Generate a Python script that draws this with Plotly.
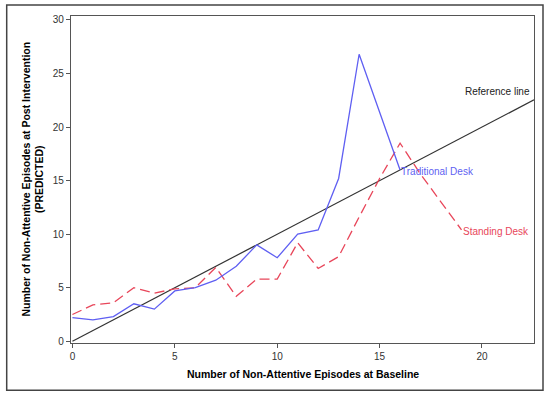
import plotly.graph_objects as go

# Data
trad_x = [0, 1, 2, 3, 4, 5, 6, 7, 8, 9, 10, 11, 12, 13, 14, 15, 16]
trad_y = [2.2, 2.0, 2.3, 3.5, 3.0, 4.7, 5.0, 5.7, 7.0, 9.0, 7.8, 10.0, 10.4, 15.2, 26.8, 21.4, 16.0]
stand_x = [0, 1, 2, 3, 4, 5, 6, 7, 8, 9, 10, 11, 12, 13, 14, 15, 16, 17, 18, 19]
stand_y = [2.5, 3.4, 3.6, 5.0, 4.5, 4.9, 5.0, 6.9, 4.2, 5.8, 5.8, 9.2, 6.8, 7.9, 11.6, 15.2, 18.5, 15.6, 13.0, 10.4]
ref_x = [0, 22.54]
ref_y = [0, 22.54]
x_ticks = [0, 5, 10, 15, 20]
y_ticks = [0, 5, 10, 15, 20, 25, 30]

BLUE = "#5f5ff2"
RED = "#e8465a"
FONT = "Liberation Sans, Arial, sans-serif"

fig = go.Figure()
fig.add_trace(go.Scatter(x=ref_x, y=ref_y, mode="lines",
                         line=dict(color="#333333", width=1.2), hoverinfo="skip"))
fig.add_trace(go.Scatter(x=stand_x, y=stand_y, mode="lines",
                         line=dict(color=RED, width=1.3, dash="10px,5px")))
fig.add_trace(go.Scatter(x=trad_x, y=trad_y, mode="lines",
                         line=dict(color=BLUE, width=1.3)))

# curve labels
fig.add_annotation(x=ref_x[-1], y=23.3, text="Reference line", showarrow=False,
                   xanchor="right", xshift=-2, font=dict(family=FONT, size=10, color="#222222"))
fig.add_annotation(x=trad_x[-1], y=trad_y[-1], text="Traditional Desk", showarrow=False,
                   xanchor="left", yshift=-2, xshift=-1, font=dict(family=FONT, size=10, color=BLUE))
fig.add_annotation(x=stand_x[-1], y=stand_y[-1], text="Standing Desk", showarrow=False,
                   xanchor="left", yshift=-2, xshift=-1, font=dict(family=FONT, size=10, color=RED))

# axis titles
fig.add_annotation(xref="paper", yref="paper", x=0.5, y=-0.096, yanchor="middle",
                   text="<b>Number of Non-Attentive Episodes at Baseline</b>", showarrow=False,
                   font=dict(family=FONT, size=10.5, color="#000000"))
fig.add_annotation(xref="paper", yref="paper", x=-0.084, y=0.5, xanchor="center",
                   text="<b>Number of Non-Attentive Episodes at Post Intervention<br>(PREDICTED)</b>",
                   showarrow=False, textangle=-90,
                   font=dict(family=FONT, size=10.5, color="#000000"))

# outer border
fig.add_shape(type="rect", xref="paper", yref="paper",
              x0=(6.7 - 71) / 463, x1=(543 - 71) / 463,
              y0=(342.7 - 390) / 326.7, y1=(342.7 - 5) / 326.7,
              line=dict(color="#444444", width=1.5))

axis_common = dict(showgrid=False, zeroline=False, showline=True, linecolor="#555555",
                   linewidth=1.3, mirror=True, ticks="outside", ticklen=4, tickwidth=1,
                   tickcolor="#555555", tickfont=dict(family=FONT, size=10, color="#333333"))
fig.update_xaxes(range=[-0.07, 22.54], tickvals=x_ticks, **axis_common)
fig.update_yaxes(range=[-0.16, 30.37], tickvals=y_ticks, **axis_common)

fig.update_layout(width=550, height=398, showlegend=False,
                  margin=dict(l=71, r=16, t=16, b=55.3),
                  plot_bgcolor="white", paper_bgcolor="white")
fig.write_html("out.html", config={"displayModeBar": False},
               post_script="document.body.style.margin='0';document.body.style.overflow='hidden';")
